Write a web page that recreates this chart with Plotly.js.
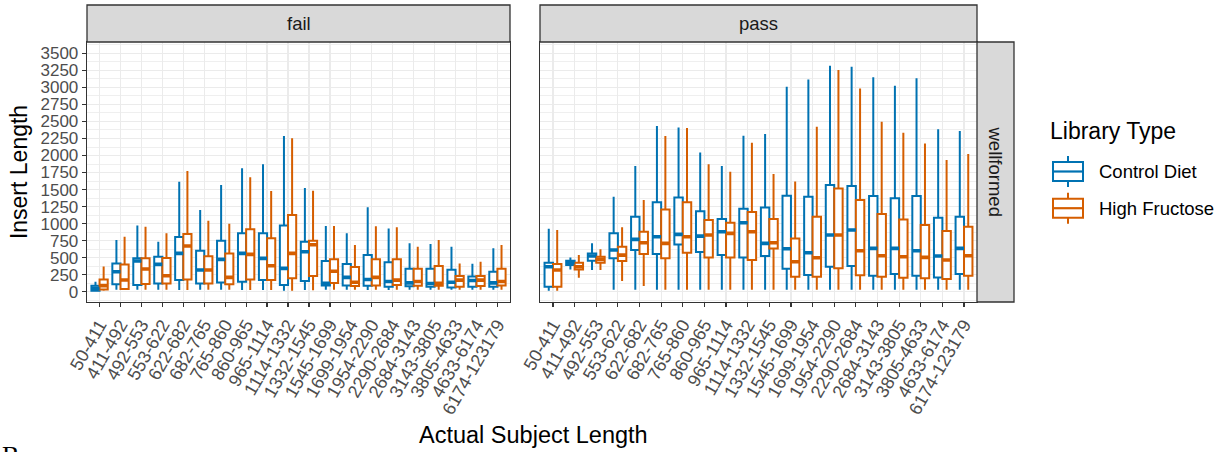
<!DOCTYPE html>
<html>
<head>
<meta charset="utf-8">
<script src="https://cdn.plot.ly/plotly-3.0.1.min.js"></script>
<style>html,body{margin:0;padding:0;background:#fff;}#chart{width:1226px;height:452px;}</style>
</head>
<body>
<div id="chart"></div>
<script>
// ---- data ----
const categories = ['50-411','411-492','492-553','553-622','622-682','682-765','765-860','860-965','965-1114','1114-1332','1332-1545','1545-1699','1699-1954','1954-2290','2290-2684','2684-3143','3143-3805','3805-4633','4633-6174','6174-123179'];

// fail panel, Control Diet
const failCtrlUpper = [147, 759, 974, 735, 1616, 1200, 1567, 1812, 1870, 2287, 1523, 964, 857, 1240, 930, 710, 700, 661, 410, 637];
const failCtrlQ3    = [88, 416, 490, 514, 803, 602, 749, 857, 857, 974, 735, 452, 406, 539, 431, 338, 338, 323, 225, 294];
const failCtrlMed   = [50, 294, 450, 402, 563, 318, 475, 563, 490, 343, 588, 122, 210, 180, 150, 130, 120, 140, 165, 130];
const failCtrlQ1    = [15, 108, 98, 122, 171, 122, 137, 147, 171, 98, 157, 93, 90, 88, 73, 80, 73, 62, 73, 73];
const failCtrlLower = [3, 30, 30, 30, 25, 30, 30, 25, 25, 15, 25, 30, 30, 25, 25, 30, 30, 30, 30, 30];

// fail panel, High Fructose
const failHfUpper = [372, 808, 955, 857, 1773, 1043, 999, 1680, 1479, 2253, 1484, 964, 685, 960, 945, 661, 759, 416, 441, 686];
const failHfQ3    = [181, 401, 490, 495, 847, 519, 563, 916, 784, 1126, 749, 475, 362, 475, 475, 338, 377, 232, 232, 338];
const failHfMed   = [90, 171, 333, 235, 671, 318, 211, 548, 382, 563, 690, 300, 140, 210, 170, 150, 122, 170, 170, 150];
const failHfQ1    = [34, 39, 113, 122, 181, 122, 108, 181, 171, 196, 230, 127, 85, 90, 100, 88, 88, 73, 83, 93];
const failHfLower = [15, 25, 30, 30, 25, 30, 30, 25, 25, 15, 20, 30, 30, 30, 30, 30, 30, 30, 30, 30];

// pass panel, Control Diet
const passCtrlUpper = [925, 504, 710, 1395, 1845, 2433, 2413, 2046, 1845, 2291, 2315, 3010, 3118, 3319, 3304, 3148, 3025, 3133, 2384, 2359];
const passCtrlQ3    = [426, 455, 563, 857, 1101, 1312, 1385, 1180, 1067, 1219, 1238, 1410, 1395, 1566, 1552, 1405, 1371, 1405, 1087, 1101];
const passCtrlMed   = [367, 426, 524, 612, 769, 808, 842, 817, 881, 1013, 710, 631, 573, 832, 906, 636, 636, 602, 524, 636];
const passCtrlQ1    = [73, 392, 455, 490, 612, 553, 695, 583, 538, 504, 524, 338, 245, 367, 377, 235, 259, 235, 210, 259];
const passCtrlLower = [15, 328, 318, 30, 30, 30, 30, 30, 30, 30, 30, 30, 30, 30, 30, 30, 30, 30, 30, 30];

// pass panel, High Fructose
const passHfUpper = [906, 538, 622, 945, 1346, 2286, 2404, 1870, 1762, 2188, 1728, 1620, 2423, 3255, 2986, 2496, 2335, 2178, 1934, 2022];
const passHfQ3    = [406, 426, 514, 661, 881, 1209, 1312, 1052, 1013, 1170, 1067, 783, 1101, 1517, 1346, 1141, 1062, 979, 891, 955];
const passHfMed   = [318, 367, 475, 538, 720, 710, 808, 832, 857, 881, 720, 441, 499, 832, 602, 529, 514, 504, 465, 529];
const passHfQ1    = [73, 328, 426, 450, 553, 490, 573, 504, 504, 465, 636, 220, 220, 343, 240, 220, 206, 196, 186, 235];
const passHfLower = [15, 206, 318, 157, 83, 30, 30, 30, 30, 30, 30, 30, 30, 30, 30, 30, 30, 30, 30, 30];

const yTicks = [0,250,500,750,1000,1250,1500,1750,2000,2250,2500,2750,3000,3250,3500];
const seriesNames = ['Control Diet', 'High Fructose'];
const seriesColors = ['#0072B2', '#D55E00'];
const facetCols = ['fail', 'pass'];
const facetRow = 'wellformed';

// ---- geometry ----
const W = 1226, H = 452;
const M = {l: 87, r: 249, t: 42, b: 150};
const PW = W - M.l - M.r, PH = H - M.t - M.b;
const px2x = p => (p - M.l) / PW;
const py2y = p => (H - M.b - p) / PH;
const dom1 = [0, px2x(510)];
const dom2 = [px2x(540), 1];

const FONT = 'Liberation Sans, Arial, sans-serif';
const GRID = '#EBEBEB';
const BORDER = '#333333';

function boxTrace(name, color, grp, xa, ya, up, q3, med, q1, lo) {
  return {
    type: 'box', name: name, x: categories,
    upperfence: up, q3: q3, median: med, q1: q1, lowerfence: lo,
    xaxis: xa, yaxis: ya, offsetgroup: grp, alignmentgroup: 'all',
    boxpoints: false, whiskerwidth: 0,
    fillcolor: '#FFFFFF',
    line: {color: color, width: 2},
    marker: {color: color},
    showlegend: false, hoverinfo: 'skip'
  };
}
// thicker median bar, as ggplot draws it (fatten = 2): a flat box at the median, same offset group
function medianTrace(name, color, grp, xa, ya, med) {
  return {
    type: 'box', name: name + ' median', x: categories,
    upperfence: med, q3: med, median: med, q1: med, lowerfence: med,
    xaxis: xa, yaxis: ya, offsetgroup: grp, alignmentgroup: 'all',
    boxpoints: false, whiskerwidth: 0,
    fillcolor: color,
    line: {color: color, width: 3.6},
    marker: {color: color},
    showlegend: false, hoverinfo: 'skip'
  };
}

const data = [
  boxTrace(seriesNames[0], seriesColors[0], 'a', 'x', 'y', failCtrlUpper, failCtrlQ3, failCtrlMed, failCtrlQ1, failCtrlLower),
  boxTrace(seriesNames[1], seriesColors[1], 'b', 'x', 'y', failHfUpper, failHfQ3, failHfMed, failHfQ1, failHfLower),
  boxTrace(seriesNames[0], seriesColors[0], 'a', 'x2', 'y2', passCtrlUpper, passCtrlQ3, passCtrlMed, passCtrlQ1, passCtrlLower),
  boxTrace(seriesNames[1], seriesColors[1], 'b', 'x2', 'y2', passHfUpper, passHfQ3, passHfMed, passHfQ1, passHfLower),
  medianTrace(seriesNames[0], seriesColors[0], 'a', 'x', 'y', failCtrlMed),
  medianTrace(seriesNames[1], seriesColors[1], 'b', 'x', 'y', failHfMed),
  medianTrace(seriesNames[0], seriesColors[0], 'a', 'x2', 'y2', passCtrlMed),
  medianTrace(seriesNames[1], seriesColors[1], 'b', 'x2', 'y2', passHfMed)
];

const xCommon = {
  type: 'category', categoryorder: 'array', categoryarray: categories,
  tickmode: 'array', tickvals: categories, ticktext: categories,
  range: [-0.6, categories.length - 0.4],
  showgrid: true, gridcolor: GRID, gridwidth: 1.2,
  showline: true, mirror: true, linecolor: BORDER, linewidth: 1.3,
  ticks: 'outside', ticklen: 4, tickwidth: 1.2, tickcolor: BORDER,
  tickangle: -60, tickfont: {family: FONT, size: 18, color: '#4D4D4D'},
  zeroline: false, fixedrange: true
};
const yCommon = {
  range: [-151, 3667], tickmode: 'array', tickvals: yTicks,
  showgrid: true, gridcolor: GRID, gridwidth: 1.2,
  minor: {dtick: 125, tick0: 0, showgrid: true, gridcolor: GRID, gridwidth: 0.8, ticks: ''},
  showline: true, mirror: true, linecolor: BORDER, linewidth: 1.3,
  zeroline: false, fixedrange: true
};

const shapes = [];
const annotations = [];
const stripTop = 1 + 37 / PH;
[dom1, dom2].forEach((d, i) => {
  shapes.push({type: 'rect', xref: 'paper', yref: 'paper', x0: d[0], x1: d[1], y0: 1, y1: stripTop,
    fillcolor: '#D9D9D9', line: {color: BORDER, width: 1.3}, layer: 'above'});
  annotations.push({xref: 'paper', yref: 'paper', x: (d[0] + d[1]) / 2, y: (1 + stripTop) / 2,
    text: facetCols[i], showarrow: false, xanchor: 'center', yanchor: 'middle',
    font: {family: FONT, size: 18.5, color: '#1A1A1A'}});
});
shapes.push({type: 'rect', xref: 'paper', yref: 'paper', x0: 1, x1: 1 + 37 / PW, y0: 0, y1: 1,
  fillcolor: '#D9D9D9', line: {color: BORDER, width: 1.3}, layer: 'above'});
annotations.push({xref: 'paper', yref: 'paper', x: 1 + 18.5 / PW, y: 0.5, text: facetRow, textangle: 90,
  showarrow: false, xanchor: 'center', yanchor: 'middle', font: {family: FONT, size: 18.5, color: '#1A1A1A'}});

// x axis title spanning both panels
annotations.push({xref: 'paper', yref: 'paper', x: px2x(533), y: py2y(435), text: 'Actual Subject Length',
  showarrow: false, xanchor: 'center', yanchor: 'middle', font: {family: FONT, size: 23.5, color: '#000'}});

// manual legend (ggplot style key)
annotations.push({xref: 'paper', yref: 'paper', x: px2x(1048), y: py2y(131), text: 'Library Type',
  showarrow: false, xanchor: 'left', yanchor: 'middle', font: {family: FONT, size: 23, color: '#000'}});
seriesNames.forEach((nm, i) => {
  const cy = 171.5 + i * 36.7;
  const c = seriesColors[i];
  const xl = px2x(1053), xr = px2x(1083), xc = px2x(1068);
  shapes.push({type: 'rect', xref: 'paper', yref: 'paper', x0: xl, x1: xr, y0: py2y(cy - 9.5), y1: py2y(cy + 9.5),
    line: {color: c, width: 2}, fillcolor: '#FFFFFF'});
  shapes.push({type: 'line', xref: 'paper', yref: 'paper', x0: xl, x1: xr, y0: py2y(cy), y1: py2y(cy), line: {color: c, width: 2.2}});
  shapes.push({type: 'line', xref: 'paper', yref: 'paper', x0: xc, x1: xc, y0: py2y(cy - 9.5), y1: py2y(cy - 15.5), line: {color: c, width: 2}});
  shapes.push({type: 'line', xref: 'paper', yref: 'paper', x0: xc, x1: xc, y0: py2y(cy + 9.5), y1: py2y(cy + 15.5), line: {color: c, width: 2}});
  annotations.push({xref: 'paper', yref: 'paper', x: px2x(1097), y: py2y(cy), text: nm,
    showarrow: false, xanchor: 'left', yanchor: 'middle', font: {family: FONT, size: 18.5, color: '#000'}});
});

// cropped panel letter of next figure (cut by the lower edge, as in the reference)
annotations.push({xref: 'paper', yref: 'paper', x: px2x(0), y: py2y(455), text: 'B',
  showarrow: false, xanchor: 'left', yanchor: 'middle', font: {family: 'Liberation Serif, Times New Roman, serif', size: 26, color: '#000'}});

const layout = {
  width: W, height: H, margin: M,
  paper_bgcolor: '#FFFFFF', plot_bgcolor: '#FFFFFF',
  font: {family: FONT},
  showlegend: false,
  boxmode: 'group', boxgap: 0.22, boxgroupgap: 0,
  xaxis: Object.assign({}, xCommon, {domain: dom1, anchor: 'y'}),
  xaxis2: Object.assign({}, xCommon, {domain: dom2, anchor: 'y2'}),
  yaxis: Object.assign({}, yCommon, {anchor: 'x',
    ticks: 'outside', ticklen: 4, tickwidth: 1.2, tickcolor: BORDER,
    tickfont: {family: FONT, size: 17, color: '#4D4D4D'},
    title: {text: 'Insert Length', font: {family: FONT, size: 23, color: '#000'}, standoff: 6}}),
  yaxis2: Object.assign({}, yCommon, {anchor: 'x2', matches: 'y', showticklabels: false, ticks: ''}),
  shapes: shapes, annotations: annotations
};

Plotly.newPlot('chart', data, layout, {staticPlot: true, displayModeBar: false});
</script>
</body>
</html>
